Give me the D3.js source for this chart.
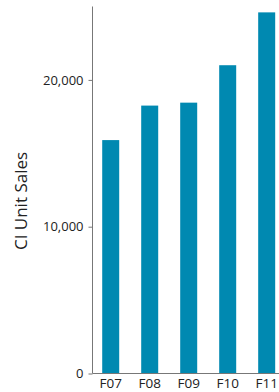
<!DOCTYPE html>
<html><head><meta charset="utf-8">
<script src="https://cdn.jsdelivr.net/npm/d3@7"></script>
<style>html,body{margin:0;padding:0;background:#fff;}svg{display:block;}</style>
</head><body>
<script>
const categories = ["F07","F08","F09","F10","F11"];
const values = [15900, 18250, 18450, 21000, 24600];
const yTicks = [0, 10000, 20000];
const yTitle = "CI Unit Sales";

const W = 279, H = 392;
const svg = d3.select("body").append("svg").attr("width", W).attr("height", H);
const font = "'Open Sans', sans-serif";
const axisX = 92.5, y0 = 373.5;

const y = d3.scaleLinear().domain([0, 25000]).range([y0, 6.5]);
const x = d3.scaleBand().domain(categories).range([axisX, axisX + 192.4])
  .paddingInner(0.564).paddingOuter(0.249);

svg.append("g").selectAll("rect").data(values).join("rect")
  .attr("x", (d,i) => x(categories[i]))
  .attr("y", d => y(d))
  .attr("width", x.bandwidth())
  .attr("height", d => y0 - y(d))
  .attr("fill", "#0089b1");

// baseline
svg.append("line").attr("x1", axisX).attr("x2", W).attr("y1", y0).attr("y2", y0)
  .attr("stroke", "#777").attr("stroke-width", 1);

const yAxis = svg.append("g").attr("transform", `translate(${axisX},0)`)
  .call(d3.axisLeft(y).tickValues(yTicks).tickSize(4).tickPadding(5).tickFormat(d3.format(",")));
yAxis.select(".domain").attr("stroke", "#777").attr("d", `M0,${y(25000)}V${y0}`);
yAxis.selectAll(".tick line").attr("stroke", "#777");
yAxis.selectAll("text").attr("font-family", font).attr("font-size", 13).attr("fill", "#222");

const xAxis = svg.append("g").attr("transform", `translate(0,${y0})`)
  .call(d3.axisBottom(x).tickSize(0).tickPadding(5));
xAxis.select(".domain").remove();
xAxis.selectAll("text").attr("font-family", font).attr("font-size", 13.5).attr("fill", "#222");

svg.append("text").attr("transform", "translate(27,201) rotate(-90)")
  .attr("text-anchor", "middle").attr("font-family", font).attr("font-size", 17)
  .attr("fill", "#222").text(yTitle);
</script>
</body></html>
